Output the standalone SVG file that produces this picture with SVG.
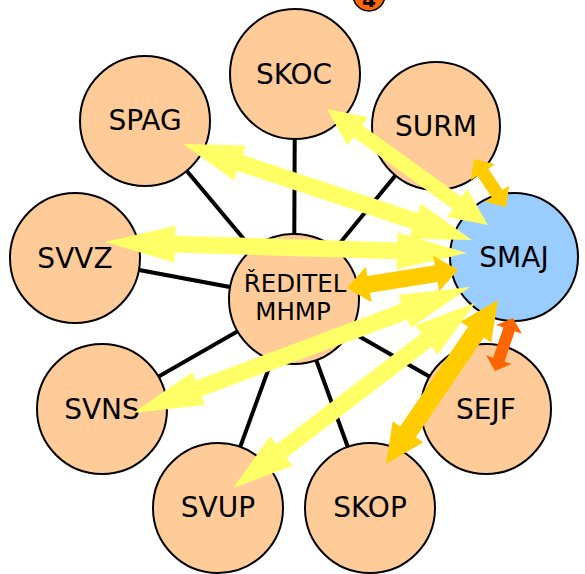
<svg xmlns="http://www.w3.org/2000/svg" width="585" height="574" viewBox="0 0 585 574">
<style>
.spoke{stroke:#000;stroke-width:4;fill:none}
.node{fill:#FFCC99;stroke:#000;stroke-width:2}
.hub{fill:#99CCFF;stroke:#000;stroke-width:2}
.lbl{font-family:"DejaVu Sans",Verdana,sans-serif;font-size:28px;fill:#000;text-anchor:middle}
.lbl2{font-family:"DejaVu Sans",Verdana,sans-serif;font-size:24.5px;fill:#000;text-anchor:middle}
.y{fill:#FFFF66}
.o{fill:#FFCC00}
.r{fill:#FF6600}
</style>
<rect width="585" height="574" fill="#fff"/>
<g id="badge">
<circle cx="369" cy="-5" r="16" fill="#FF6600" stroke="#000" stroke-width="1.5"/>
<text x="369" y="7" font-family="DejaVu Sans,sans-serif" font-weight="bold" font-size="20" text-anchor="middle" fill="#000">4</text>
</g>
<g id="connectors-spokes">
<line class="spoke" x1="294" y1="299" x2="295" y2="74"/>
<line class="spoke" x1="294" y1="299" x2="145" y2="121"/>
<line class="spoke" x1="294" y1="299" x2="436" y2="126"/>
<line class="spoke" x1="294" y1="299" x2="75" y2="258"/>
<line class="spoke" x1="294" y1="299" x2="102" y2="409"/>
<line class="spoke" x1="294" y1="299" x2="218" y2="508"/>
<line class="spoke" x1="294" y1="299" x2="370" y2="508"/>
<line class="spoke" x1="294" y1="299" x2="486" y2="409"/>
</g>
<g id="node-skoc"><circle class="node" cx="295" cy="74" r="65"/><text class="lbl" x="294" y="84">SKOC</text></g>
<g id="node-spag"><circle class="node" cx="145" cy="121" r="65"/><text class="lbl" x="145" y="130">SPAG</text></g>
<g id="node-surm"><circle class="node" cx="436" cy="126" r="64"/><text class="lbl" x="436" y="136">SURM</text></g>
<g id="node-svvz"><circle class="node" cx="75" cy="258" r="65"/><text class="lbl" x="75" y="268">SVVZ</text></g>
<g id="node-svns"><circle class="node" cx="102" cy="409" r="65"/><text class="lbl" x="102" y="419">SVNS</text></g>
<g id="node-svup"><circle class="node" cx="218" cy="508" r="65"/><text class="lbl" x="218" y="517">SVUP</text></g>
<g id="node-skop"><circle class="node" cx="370" cy="508" r="65"/><text class="lbl" x="370" y="517">SKOP</text></g>
<g id="node-sejf"><circle class="node" cx="486" cy="409" r="65"/><text class="lbl" x="486" y="419">SEJF</text></g>
<g id="node-reditel"><circle class="node" cx="294" cy="299" r="65"/><text class="lbl2" x="295" y="292">ŘEDITEL</text><text class="lbl2" x="293" y="320">MHMP</text></g>
<g id="node-smaj"><circle class="hub" cx="514" cy="257" r="64"/><text class="lbl" x="514" y="267">SMAJ</text></g>
<g id="connectors-arrows">
<polygon class="y" transform="translate(327,109) rotate(35.8)" points="0,0 38,-17.5 38,-7.5 160.4,-7.5 160.4,-17.5 198.4,0 160.4,17.5 160.4,7.5 38,7.5 38,17.5"/>
<polygon class="y" transform="translate(183,144) rotate(18.4)" points="0,0 60,-18.5 60,-8.5 244.5,-8.5 244.5,-18.5 304.5,0 244.5,18.5 244.5,8.5 60,8.5 60,18.5"/>
<polygon class="y" transform="translate(105,242) rotate(1.74)" points="0,0 70,-18.5 70,-8.5 292.2,-8.5 292.2,-18.5 362.2,0 292.2,18.5 292.2,8.5 70,8.5 70,18.5"/>
<polygon class="y" transform="translate(133,413) rotate(-20.5)" points="0,0 70,-17.5 70,-8.5 289.8,-8.5 289.8,-17.5 359.8,0 289.8,17.5 289.8,8.5 70,8.5 70,17.5"/>
<polygon class="y" transform="translate(233,488) rotate(-37.4)" points="0,0 61,-18.5 61,-8.5 243.6,-8.5 243.6,-18.5 304.6,0 243.6,18.5 243.6,8.5 61,8.5 61,18.5"/>
<polygon class="o" transform="translate(347,288) rotate(-9.2)" points="0,0 22,-18 22,-8.5 90.4,-8.5 90.4,-18 112.4,0 90.4,18 90.4,8.5 22,8.5 22,18"/>
<polygon class="o" transform="translate(386,464) rotate(-55.7)" points="0,0 39,-18.5 39,-9.5 159.6,-9.5 159.6,-18.5 198.6,0 159.6,18.5 159.6,9.5 39,9.5 39,18.5"/>
<polygon class="o" transform="translate(474,159) rotate(56.3)" points="0,0 16,-14.5 16,-6.5 41.7,-6.5 41.7,-14.5 57.7,0 41.7,14.5 41.7,6.5 16,6.5 16,14.5"/>
<polygon class="r" transform="translate(513,318) rotate(108.8)" points="0,0 12,-13.5 12,-6 44,-6 44,-13.5 56,0 44,13.5 44,6 12,6 12,13.5"/>
</g>
</svg>
